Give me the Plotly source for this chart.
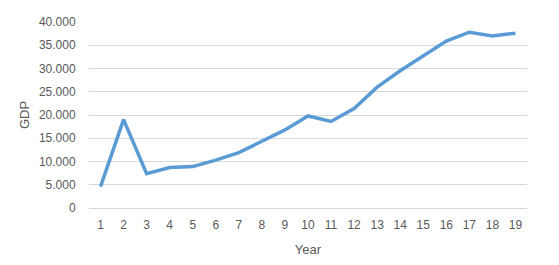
import plotly.graph_objects as go

years = list(range(1, 20))
gdp = [4600, 19000, 7400, 8700, 8900, 10300, 11900, 14300, 16800, 19800,
       18600, 21400, 26000, 29500, 32700, 35900, 37800, 37000, 37600]
y_ticks = [0, 5000, 10000, 15000, 20000, 25000, 30000, 35000, 40000]

fig = go.Figure(go.Scatter(x=years, y=gdp, mode="lines",
                           line=dict(color="#5B9BD5", width=3.5)))

font = dict(family="Liberation Sans, Arial, sans-serif", size=12, color="#595959")
title_font = dict(family="Liberation Sans, Arial, sans-serif", size=13, color="#595959")
fig.update_layout(
    width=551, height=257,
    margin=dict(l=81, r=32, t=14, b=57),
    paper_bgcolor="white", plot_bgcolor="white",
    separators=",.",
    showlegend=False,
    font=font,
    xaxis=dict(range=[0.5, 19.5], tickmode="array", tickvals=years,
               ticktext=[str(y) for y in years], showgrid=False, zeroline=False,
               showline=False, ticks="outside", ticklen=6, tickcolor="rgba(0,0,0,0)",
               automargin=False,
               title=dict(text="Year", standoff=13, font=title_font)),
    yaxis=dict(range=[0, 40000], tickmode="array", tickvals=y_ticks,
               separatethousands=True, tickformat=",d",
               showgrid=True, gridcolor="#D9D9D9", gridwidth=1, zeroline=True,
               zerolinecolor="#D9D9D9", zerolinewidth=1, showline=False,
               ticks="outside", ticklen=10, tickcolor="rgba(0,0,0,0)",
               automargin=False,
               title=dict(text="GDP", standoff=6, font=title_font)),
)
fig.write_html("out.html")
